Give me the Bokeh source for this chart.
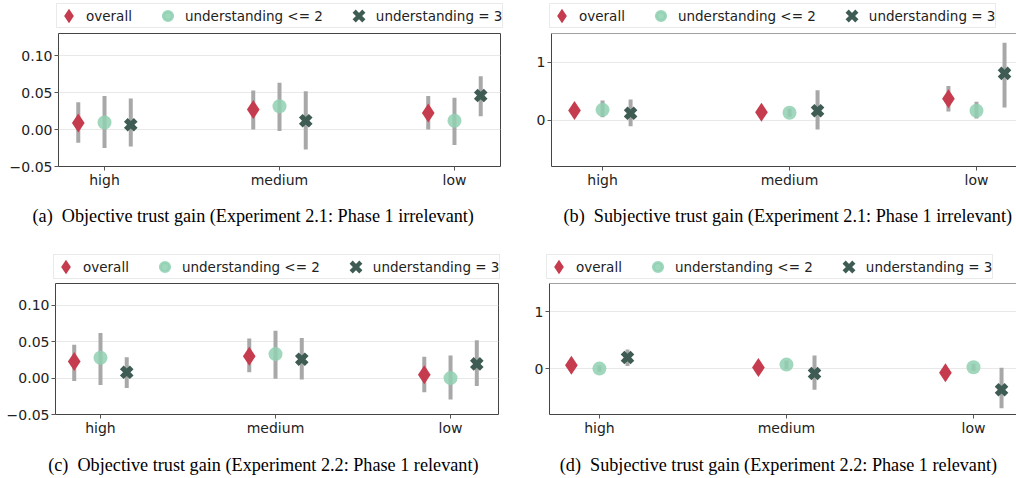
import numpy as np
from bokeh.plotting import figure
from bokeh.models import Range1d, FixedTicker, Legend, LegendItem, Span
from bokeh.layouts import row, column
from bokeh.embed import file_html
from bokeh.resources import INLINE

CATEGORIES = ["high", "medium", "low"]
SERIES = ["overall", "understanding <= 2", "understanding = 3"]

# (a) Objective trust gain, Experiment 2.1
A_OVERALL_MEAN = [0.009, 0.027, 0.0225]
A_OVERALL_LO = [-0.018, 0.000, 0.000]
A_OVERALL_HI = [0.037, 0.053, 0.0455]
A_U2_MEAN = [0.0095, 0.0315, 0.012]
A_U2_LO = [-0.025, -0.002, -0.021]
A_U2_HI = [0.0455, 0.0635, 0.043]
A_U3_MEAN = [0.0065, 0.012, 0.046]
A_U3_LO = [-0.023, -0.027, 0.018]
A_U3_HI = [0.042, 0.052, 0.072]

# (b) Subjective trust gain, Experiment 2.1
B_OVERALL_MEAN = [0.17, 0.14, 0.37]
B_OVERALL_LO = [0.08, 0.07, 0.15]
B_OVERALL_HI = [0.26, 0.21, 0.59]
B_U2_MEAN = [0.18, 0.13, 0.165]
B_U2_LO = [0.05, 0.06, 0.03]
B_U2_HI = [0.34, 0.20, 0.32]
B_U3_MEAN = [0.12, 0.165, 0.81]
B_U3_LO = [-0.105, -0.16, 0.22]
B_U3_HI = [0.36, 0.52, 1.34]

# (c) Objective trust gain, Experiment 2.2
C_OVERALL_MEAN = [0.0227, 0.030, 0.0045]
C_OVERALL_LO = [-0.004, 0.008, -0.0195]
C_OVERALL_HI = [0.046, 0.0545, 0.0295]
C_U2_MEAN = [0.028, 0.033, 0.0]
C_U2_LO = [-0.0095, -0.001, -0.0295]
C_U2_HI = [0.062, 0.065, 0.031]
C_U3_MEAN = [0.008, 0.026, 0.0195]
C_U3_LO = [-0.0136, -0.002, -0.011]
C_U3_HI = [0.0286, 0.055, 0.052]

# (d) Subjective trust gain, Experiment 2.2
D_OVERALL_MEAN = [0.065, 0.024, -0.065]
D_OVERALL_LO = [-0.015, -0.05, -0.14]
D_OVERALL_HI = [0.14, 0.10, 0.01]
D_U2_MEAN = [0.006, 0.076, 0.03]
D_U2_LO = [-0.05, 0.0, -0.03]
D_U2_HI = [0.06, 0.15, 0.09]
D_U3_MEAN = [0.2, -0.08, -0.365]
D_U3_LO = [0.05, -0.365, -0.69]
D_U3_HI = [0.34, 0.235, 0.02]

OBJ_YTICKS = [-0.05, 0.0, 0.05, 0.1]
OBJ_YLABELS = ["\u22120.05", "0.00", "0.05", "0.10"]
SUBJ_YTICKS = [0, 1]
SUBJ_YLABELS = ["0", "1"]

CAPTIONS = [
    "(a)\u00a0 Objective trust gain (Experiment 2.1: Phase 1 irrelevant)",
    "(b)\u00a0 Subjective trust gain (Experiment 2.1: Phase 1 irrelevant)",
    "(c)\u00a0 Objective trust gain (Experiment 2.2: Phase 1 relevant)",
    "(d)\u00a0 Subjective trust gain (Experiment 2.2: Phase 1 relevant)",
]

RED = "#c63c4f"
GREEN = "#8fd0b2"
DARK = "#3e5c53"
BAR = "#a8a8a8"
FRAME = "#444444"
TEXT = "#222222"
OFFSETS = [-0.15, 0.0, 0.15]
LEG_FIG_H = 30
LEG_H = 23
NB = "\u00a0"
CAP_FONT = "Liberation Serif"
CAP_SIZE = "18.2px"


def make_legend(series, width, box_x):
    lf = figure(width=width, height=LEG_FIG_H, x_range=Range1d(-0.3, 2.3),
                y_range=Range1d(10, 11), x_axis_type=None, y_axis_type=None,
                output_backend="svg", toolbar_location=None, min_border=0)
    lf.outline_line_color = None
    lf.background_fill_color = "white"
    lf.border_fill_color = "white"
    lf.grid.visible = False
    base = np.arange(len(CATEGORIES))
    styles = [dict(marker="diamond", color=RED, alpha=1.0, lw=3.0, cap="butt"),
              dict(marker="circle", color=GREEN, alpha=0.85, lw=3.0, cap="butt"),
              dict(marker="x", color=DARK, alpha=1.0, lw=4.5, cap="square")]
    rends = []
    for (mean, lo, hi), off, st in zip(series, OFFSETS, styles):
        r = lf.scatter(x=base + off, y=mean, marker=st["marker"], size=10,
                       fill_color=st["color"], fill_alpha=st["alpha"],
                       line_color=st["color"], line_alpha=st["alpha"],
                       line_width=st["lw"], line_join="miter", line_cap=st["cap"])
        rends.append(r)
    legend = Legend(items=[LegendItem(label=s, renderers=[r]) for s, r in zip(SERIES, rends)],
                    orientation="horizontal", location=(box_x, 2),
                    glyph_width=23, glyph_height=LEG_H, label_height=LEG_H,
                    padding=0, spacing=24, label_standoff=6, margin=0,
                    border_line_color="#d6d6d6", border_line_width=1,
                    background_fill_color="white", background_fill_alpha=1.0,
                    label_text_font="DejaVu Sans", label_text_font_size="13.5px",
                    label_text_color=TEXT)
    lf.add_layout(legend)
    return lf


def make_panel(series, yticks, ylabels, yrange, xrange, width, height,
               left, right, top, bottom, full_frame):
    p = figure(width=width, height=height,
               x_range=Range1d(*xrange), y_range=Range1d(*yrange),
               output_backend="svg", toolbar_location=None,
               min_border_left=left, min_border_right=right,
               min_border_top=top, min_border_bottom=bottom)
    p.background_fill_color = "white"
    p.border_fill_color = "white"

    base = np.arange(len(CATEGORIES))
    markers = [dict(marker="diamond", size=19, color=RED, alpha=1.0, angle=0.0),
               dict(marker="circle", size=14, color=GREEN, alpha=0.85, angle=0.0),
               dict(marker="plus", size=14, color=DARK, alpha=1.0, angle=np.pi / 4)]
    for (mean, lo, hi), off, m in zip(series, OFFSETS, markers):
        x = base + off
        p.segment(x0=x, y0=lo, x1=x, y1=hi, line_width=4, line_color=BAR, line_cap="butt")
        p.scatter(x=x, y=mean, marker=m["marker"], size=m["size"],
                  fill_color=m["color"], fill_alpha=m["alpha"], line_color=None,
                  angle=m["angle"])

    p.xaxis.ticker = FixedTicker(ticks=list(range(len(CATEGORIES))))
    p.xaxis.major_label_overrides = {i: c for i, c in enumerate(CATEGORIES)}
    p.yaxis.ticker = FixedTicker(ticks=yticks)
    p.yaxis.major_label_overrides = {t: l for t, l in zip(yticks, ylabels)}
    for ax in (p.xaxis[0], p.yaxis[0]):
        ax.major_label_text_font = "DejaVu Sans"
        ax.major_label_text_font_size = "14px"
        ax.major_label_text_color = TEXT
        ax.major_tick_out = 4
        ax.major_tick_in = 0
        ax.minor_tick_line_color = None
        ax.major_tick_line_color = "#555555"
        ax.major_label_standoff = 2
    p.xaxis.major_label_standoff = 1
    p.xgrid.visible = False
    p.ygrid.grid_line_color = "#e8e8e8"
    p.ygrid.grid_line_width = 1

    if full_frame:
        p.outline_line_color = FRAME
        p.outline_line_width = 1
        p.xaxis.axis_line_color = None
        p.yaxis.axis_line_color = None
    else:
        p.outline_line_color = None
        p.xaxis.axis_line_color = FRAME
        p.yaxis.axis_line_color = FRAME
        p.add_layout(Span(location=yrange[1], dimension="width", line_color=FRAME, line_width=1))
    return p


def caption_as_title(p, text, offset, standoff):
    p.title.text = text
    p.title_location = "below"
    p.title.text_font = CAP_FONT
    p.title.text_font_size = CAP_SIZE
    p.title.text_font_style = "normal"
    p.title.text_color = "black"
    p.title.align = "left"
    p.title.offset = offset
    p.title.standoff = standoff


def caption_as_axis_label(p, text, standoff):
    p.xaxis.axis_label = text
    p.xaxis.axis_label_text_font = CAP_FONT
    p.xaxis.axis_label_text_font_size = CAP_SIZE
    p.xaxis.axis_label_text_font_style = "normal"
    p.xaxis.axis_label_text_color = "black"
    p.xaxis.axis_label_standoff = standoff


OBJ_RANGE = (-0.05, 0.13)
SUBJ_RANGE = (-0.8, 1.5)

A_SERIES = [(A_OVERALL_MEAN, A_OVERALL_LO, A_OVERALL_HI), (A_U2_MEAN, A_U2_LO, A_U2_HI),
            (A_U3_MEAN, A_U3_LO, A_U3_HI)]
B_SERIES = [(B_OVERALL_MEAN, B_OVERALL_LO, B_OVERALL_HI), (B_U2_MEAN, B_U2_LO, B_U2_HI),
            (B_U3_MEAN, B_U3_LO, B_U3_HI)]
C_SERIES = [(C_OVERALL_MEAN, C_OVERALL_LO, C_OVERALL_HI), (C_U2_MEAN, C_U2_LO, C_U2_HI),
            (C_U3_MEAN, C_U3_LO, C_U3_HI)]
D_SERIES = [(D_OVERALL_MEAN, D_OVERALL_LO, D_OVERALL_HI), (D_U2_MEAN, D_U2_LO, D_U2_HI),
            (D_U3_MEAN, D_U3_LO, D_U3_HI)]

pa = make_panel(A_SERIES, OBJ_YTICKS, OBJ_YLABELS, OBJ_RANGE, (-0.263, 2.263),
                514, 221, 58, 14, 3, 85, True)
pb = make_panel(B_SERIES, SUBJ_YTICKS, SUBJ_YLABELS, SUBJ_RANGE, (-0.273, 2.214),
                502, 221, 37, 0, 3, 85, False)
pc = make_panel(C_SERIES, OBJ_YTICKS, OBJ_YLABELS, OBJ_RANGE, (-0.257, 2.274),
                514, 196, 55, 16, 2, 60, True)
pd_ = make_panel(D_SERIES, SUBJ_YTICKS, SUBJ_YLABELS, SUBJ_RANGE, (-0.267, 2.23),
                 502, 196, 35, 0, 2, 60, False)

caption_as_title(pa, CAPTIONS[0], -26, 26)
caption_as_title(pb, CAPTIONS[1], 12, 26)
caption_as_axis_label(pc, CAPTIONS[2] + NB * 6, 16)
caption_as_axis_label(pd_, CAPTIONS[3] + NB * 2, 16)

la = make_legend(A_SERIES, 514, 56)
lb = make_legend(B_SERIES, 502, 35)
lc = make_legend(C_SERIES, 514, 53)
ld = make_legend(D_SERIES, 502, 32)

layout = column(row(la, lb), row(pa, pb), row(lc, ld), row(pc, pd_))
open("out.html", "w").write(file_html(layout, INLINE))
